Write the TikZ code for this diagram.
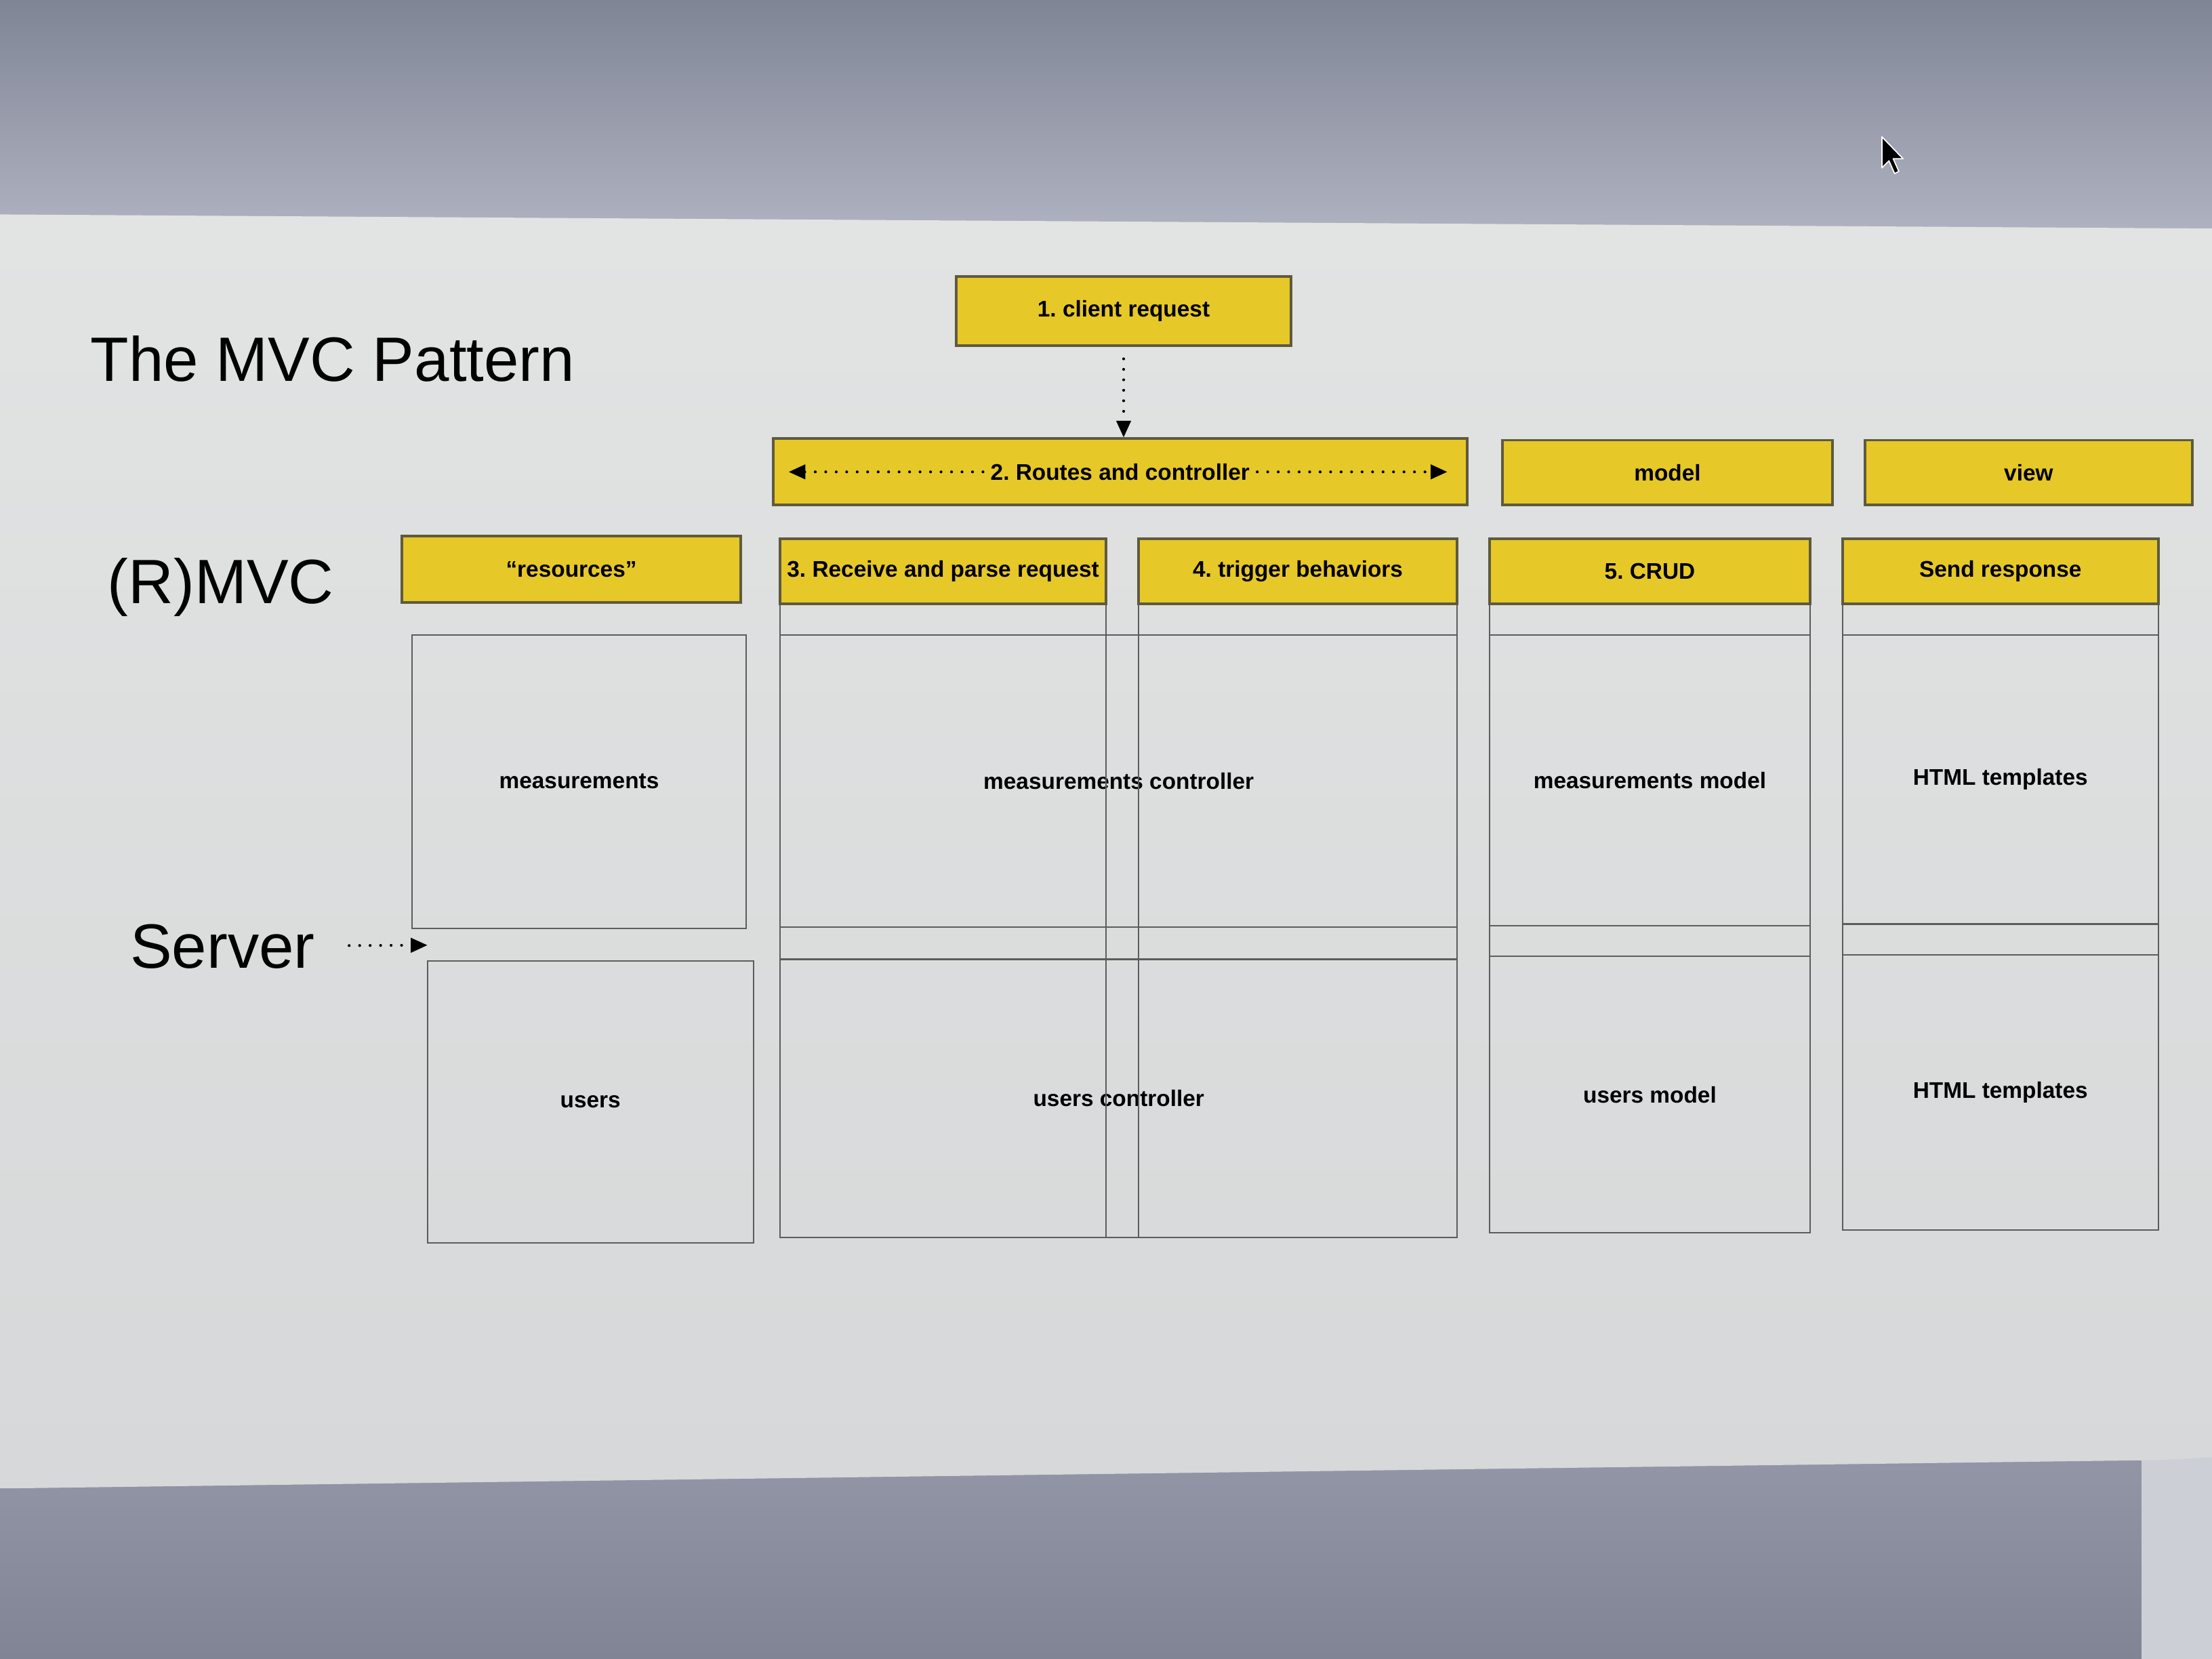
\documentclass[tikz,border=0pt]{standalone}
\usepackage{fontspec}
\setmainfont{Liberation Sans}
\usetikzlibrary{arrows.meta,fit,calc}

\definecolor{hdrfill}{RGB}{230,200,40}
\definecolor{hdrline}{RGB}{95,90,62}
\definecolor{cellline}{RGB}{92,92,92}
\definecolor{slide}{RGB}{226,227,227}
\definecolor{slidelow}{RGB}{214,216,217}
\definecolor{frametop}{RGB}{128,133,150}
\definecolor{framemid}{RGB}{178,181,195}
\definecolor{framelow}{RGB}{150,154,170}
\definecolor{framedark}{RGB}{128,132,148}
\definecolor{bezel}{RGB}{204,207,214}

\frenchspacing
\begin{document}
\begin{tikzpicture}[x=0.020816cm,y=-0.020816cm,
  boxfont/.style={font=\bfseries\fontsize{9.5}{11}\selectfont},
  hdr/.style={draw=hdrline, line width=1.1pt, fill=hdrfill, inner sep=0pt},
  colbox/.style={draw=cellline, line width=0.6pt, inner sep=0pt},
  cell/.style={draw=cellline, line width=0.6pt, inner sep=0pt},
  txt/.style={boxfont, inner sep=2pt},
  big/.style={font=\fontsize{26.3}{32}\selectfont, inner sep=0pt},
  dotarr/.style={line width=1.2pt, dash pattern=on 0pt off 4.4pt, line cap=round,
    -{Triangle[length=7pt,width=6pt]}},
]
\useasboundingbox (0,0) rectangle (1568,1176);

% screen surroundings
\shade[top color=frametop, bottom color=framemid] (0,0) rectangle (1568,175);
\shade[top color=framelow, bottom color=framedark] (0,1000) rectangle (1568,1176);
\fill[bezel] (1518,1030) rectangle (1568,1176);

% slide area
\shade[top color=slide, bottom color=slidelow]
  (0,152) -- (1568,162) -- (1568,1033) -- (1528,1035) -- (10,1055) -- (0,1055) -- cycle;

% mouse pointer
\filldraw[fill=black, draw=white, line width=0.5pt, line join=round]
  (1334,97) -- ++(0,22) -- ++(5,-5) -- ++(4,9) -- ++(3,-1.5) -- ++(-4,-9) -- ++(7,0) -- cycle;

% headings on the left
\node[big, anchor=base west] (title) at (64,270) {The MVC Pattern};
\node[big, anchor=base west] (rmvc) at (76,428) {(R)MVC};
\node[big, anchor=base west] (server) at (92,686) {Server};

% top row
\node[hdr, fit={(678,196) (915,245)}] (client) {};
\node[txt] at (client.center) {1. client request};
\node[hdr, fit={(548,311) (1040,358)}] (routes) {};
\node[txt, inner sep=3pt] (rtext) at (routes.center) {2. Routes and controller};
\node[hdr, fit={(1065,312) (1299,358)}] (model) {};
\node[txt] at (model.center) {model};
\node[hdr, fit={(1322,312) (1554,358)}] (view) {};
\node[txt] at (view.center) {view};

\coordinate (rleft) at ($(routes.west)+(12,0)$);
\coordinate (rright) at ($(routes.east)+(-15,0)$);
\draw[dotarr] (rtext.west) -- (rleft);
\draw[dotarr] (rtext.east) -- (rright);
\draw[dotarr, shorten <=5pt] (client.south) -- (client.south |- routes.north);

% resources column
\node[hdr, fit={(285,380) (525,427)}] (res) {};
\node[txt] at (res.center) {“resources”};
\node[cell, fit={(292,450) (529,658)}] (meas) {};
\node[txt] at (meas.center) {measurements};
\node[cell, fit={(303,681) (534,881)}] (users) {};
\node[txt] at (users.center) {users};

% controller, model and view cells
\node[cell, fit={(553,450) (1033,657)}] (mctl) {};
\node[txt] at (mctl.center) {measurements controller};
\node[cell, fit={(553,680) (1033,877)}] (uctl) {};
\node[txt] at (uctl.center) {users controller};
\node[cell, fit={(1056,450) (1283,656)}] (mmod) {};
\node[txt] at (mmod.center) {measurements model};
\node[cell, fit={(1056,678) (1283,874)}] (umod) {};
\node[txt] at (umod.center) {users model};
\node[cell, fit={(1306,450) (1530,655)}] (mview) {};
\node[txt] at (mview.center) {HTML templates};
\node[cell, fit={(1306,677) (1530,872)}] (uview) {};
\node[txt] at (uview.center) {HTML templates};

% column outlines
\node[colbox, fit={(553,382) (784,877)}] (col3) {};
\node[colbox, fit={(807,382) (1033,877)}] (col4) {};
\node[colbox, fit={(1056,382) (1283,874)}] (col5) {};
\node[colbox, fit={(1306,382) (1530,872)}] (col6) {};

% column headers
\node[hdr, fit={(553,382) (784,428)}] (h3) {};
\node[txt] at (h3.center) {3. Receive and parse request};
\node[hdr, fit={(807,382) (1033,428)}] (h4) {};
\node[txt] at (h4.center) {4. trigger behaviors};
\node[hdr, fit={(1056,382) (1283,428)}] (h5) {};
\node[txt] at (h5.center) {5. CRUD};
\node[hdr, fit={(1306,382) (1530,428)}] (h6) {};
\node[txt] at (h6.center) {Send response};

% server pointer
\coordinate (srvtip) at (303,670);
\draw[dotarr, shorten <=0.5cm] (server) -- (srvtip);

\end{tikzpicture}
\end{document}
